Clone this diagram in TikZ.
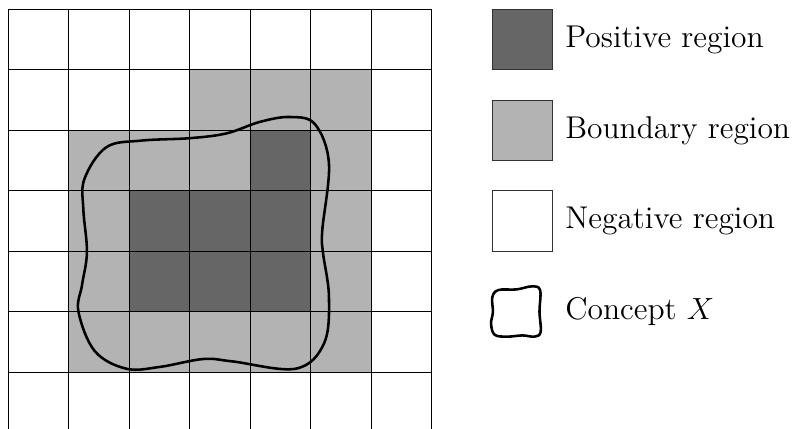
\documentclass[tikz,border=0pt]{standalone}
\usetikzlibrary{positioning}
\definecolor{posgray}{HTML}{666666}
\definecolor{bndgray}{HTML}{B3B3B3}

\begin{document}
\begin{tikzpicture}[
  node distance=2mm,
  cellline/.style={line width=0.5pt, black},
  conceptline/.style={line width=1.2pt, black, line join=round},
  keybox/.style={draw=black!80, line width=0.5pt, minimum size=1cm,
                 inner sep=0pt, outer sep=0pt},
  keytext/.style={inner sep=0pt, font=\fontsize{14.8}{18}\selectfont}
]
\useasboundingbox (-0.137,0.079) rectangle (12.97,7.154);
\clip (-0.137,0.079) rectangle (12.97,7.154);
% boundary and positive regions
\fill[bndgray] (1,1) rectangle (6,5);
\fill[bndgray] (3,5) rectangle (6,6);
\fill[posgray] (2,2) rectangle (5,4);
\fill[posgray] (4,4) rectangle (5,5);
% grid
\draw[cellline] (0,0) grid (7,7);
% concept X
\draw[conceptline] plot[smooth cycle, tension=0.6] coordinates {
  (1.26,4.2) (1.62,4.72) (2.2,4.83) (3.0,4.87) (3.61,4.95) (4.16,5.14)
  (4.66,5.22) (5.07,5.10) (5.30,4.45) (5.19,3.35) (5.2,2.99)
  (5.30,2.25) (5.22,1.48) (4.75,1.06) (3.71,1.18)
  (3.22,1.22) (2.51,1.09) (1.95,1.06) (1.43,1.35) (1.16,2.0)
  (1.22,2.45) (1.3,2.99) (1.24,3.7)};

% legend
\node[keybox, fill=posgray] (pos) at (8.5,6.5) {};
\node[keybox, fill=bndgray, below=5mm of pos] (bnd) {};
\node[keybox, fill=white, below=5mm of bnd] (neg) {};
\node[keytext, right=of pos] (postext) {Positive region};
\node[keytext, right=of bnd] (bndtext) {Boundary region};
\node[keytext, right=of neg] (negtext) {Negative region};
\coordinate (cx) at (8.4,2.0);
\draw[conceptline, shift={(cx)}] plot[smooth cycle, tension=0.6] coordinates {
  (-0.40,0.24) (-0.30,0.36) (0.0,0.37) (0.25,0.42) (0.39,0.36)
  (0.38,0.0) (0.40,-0.33) (0.30,-0.41) (0.1,-0.39) (-0.15,-0.41)
  (-0.36,-0.38) (-0.42,-0.2) (-0.39,0.0)};
\node[keytext, anchor=west] (cxtext) at (9.2,2.0) {Concept $X$};
\end{tikzpicture}
\end{document}
